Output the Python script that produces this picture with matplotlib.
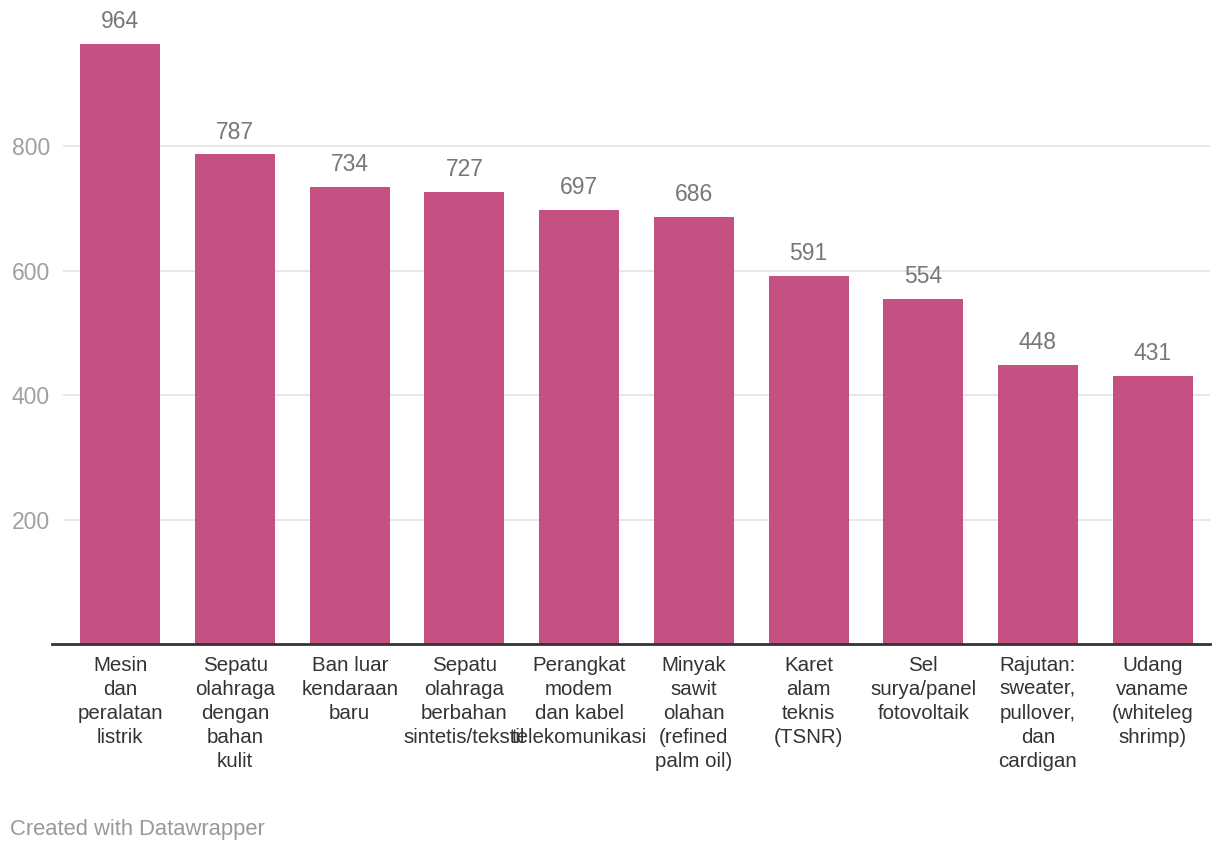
import matplotlib
matplotlib.use("Agg")
import matplotlib.pyplot as plt

categories = [
    "Mesin\ndan\nperalatan\nlistrik",
    "Sepatu\nolahraga\ndengan\nbahan\nkulit",
    "Ban luar\nkendaraan\nbaru",
    "Sepatu\nolahraga\nberbahan\nsintetis/tekstil",
    "Perangkat\nmodem\ndan kabel\ntelekomunikasi",
    "Minyak\nsawit\nolahan\n(refined\npalm oil)",
    "Karet\nalam\nteknis\n(TSNR)",
    "Sel\nsurya/panel\nfotovoltaik",
    "Rajutan:\nsweater,\npullover,\ndan\ncardigan",
    "Udang\nvaname\n(whiteleg\nshrimp)",
]
values = [964, 787, 734, 727, 697, 686, 591, 554, 448, 431]
yticks = [200, 400, 600, 800]

W, H = 1220, 852
fig = plt.figure(figsize=(W / 100, H / 100), dpi=100)
plt.rcParams['font.family'] = ['Liberation Sans', 'DejaVu Sans']

ax_left, ax_right = 63, 1210
y0_px, top_px = 644, 0
ax = fig.add_axes([ax_left / W, 1 - y0_px / H, (ax_right - ax_left) / W, (y0_px - top_px) / H])

bar_color = "#c55182"
x = list(range(len(values)))
ax.bar(x, values, width=0.697, color=bar_color, zorder=3)
ax.set_xlim(-0.5, len(values) - 0.5)
ax.set_ylim(0, 644 / 0.622)

for xi, v in zip(x, values):
    ax.annotate(f"{v}", (xi, v), xytext=(0, 11.5), textcoords="offset points",
                ha="center", va="baseline", fontsize=16.5, color="#777777")

ax.set_yticks(yticks)
ax.set_yticklabels([str(t) for t in yticks], fontsize=16.5, color="#a0a0a0")
ax.yaxis.grid(True, color="#e3e3e3", linewidth=1.2, zorder=0)
ax.tick_params(axis="y", length=0, pad=9.5)

ax.set_xticks(x)
ax.set_xticklabels(categories, fontsize=14.8, color="#333333", linespacing=1.33)
ax.tick_params(axis="x", length=0, pad=8.5)

for s in ax.spines.values():
    s.set_visible(False)
ax.axhline(0, xmin=-11 / (ax_right - ax_left), xmax=1.0, color="#333333",
           linewidth=2, clip_on=False, zorder=4)

fig.text(10 / W, 1 - 829 / H, "Created with Datawrapper", fontsize=15.8,
         color="#999999", ha="left", va="center")

fig.savefig("out.png", dpi=100)
